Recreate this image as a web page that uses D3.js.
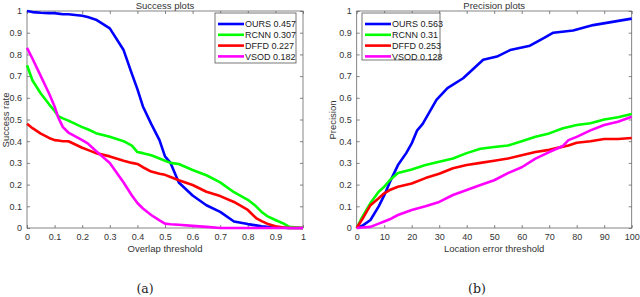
<!DOCTYPE html>
<html>
<head>
<meta charset="utf-8">
<script src="https://cdn.jsdelivr.net/npm/d3@7"></script>
<style>
  body { margin: 0; background: #fff; }
  svg { display: block; }
  .tick text { font-family: "Liberation Sans", Arial, sans-serif; font-size: 9px; fill: #333; }
  .lbl { font-family: "Liberation Sans", Arial, sans-serif; font-size: 9.5px; fill: #333; }
  .leg { font-family: "Liberation Sans", Arial, sans-serif; font-size: 9px; fill: #222; }
  .cap { font-family: "DejaVu Serif", "Liberation Serif", serif; font-size: 12.5px; fill: #222; }
</style>
</head>
<body>
<svg id="chart" width="640" height="297"></svg>
<script>
// Success plots (overlap threshold 0..1)
const succX = [0, 0.02, 0.05, 0.08, 0.1, 0.113, 0.13, 0.15, 0.2, 0.22, 0.25, 0.3, 0.35, 0.38, 0.4, 0.42, 0.45, 0.48, 0.5, 0.52, 0.55, 0.6, 0.65, 0.7, 0.75, 0.8, 0.83, 0.85, 0.87, 0.9, 0.93, 0.95, 1];
const succOurs = [1.0, 0.995, 0.992, 0.99, 0.99, 0.988, 0.985, 0.985, 0.978, 0.972, 0.96, 0.92, 0.82, 0.71, 0.64, 0.56, 0.48, 0.405, 0.33, 0.30, 0.21, 0.15, 0.105, 0.074, 0.03, 0.018, 0.012, 0.008, 0.005, 0.002, 0.001, 0, 0];
const succRcnn = [0.75, 0.68, 0.62, 0.57, 0.54, 0.515, 0.505, 0.495, 0.465, 0.455, 0.437, 0.42, 0.40, 0.38, 0.35, 0.345, 0.335, 0.32, 0.31, 0.30, 0.295, 0.267, 0.243, 0.21, 0.165, 0.13, 0.10, 0.074, 0.055, 0.037, 0.02, 0.005, 0];
const succDffd = [0.48, 0.46, 0.435, 0.415, 0.405, 0.403, 0.40, 0.40, 0.37, 0.36, 0.345, 0.33, 0.31, 0.30, 0.295, 0.28, 0.26, 0.25, 0.245, 0.235, 0.22, 0.198, 0.167, 0.147, 0.12, 0.083, 0.046, 0.032, 0.02, 0.008, 0.002, 0, 0];
const succVsod = [0.83, 0.78, 0.70, 0.62, 0.56, 0.51, 0.465, 0.44, 0.405, 0.39, 0.355, 0.30, 0.21, 0.15, 0.115, 0.09, 0.06, 0.035, 0.02, 0.017, 0.015, 0.01, 0.005, 0, 0, 0, 0, 0, 0, 0, 0, 0, 0];

// Precision plots (location error threshold 0..100)
const precX = [0, 2, 5, 8, 10, 12, 15, 18, 20, 22, 24, 29, 33, 38.7, 46, 51, 55.8, 63, 68, 71.5, 78.7, 86, 93, 100];
const precOurs = [0, 0.01, 0.037, 0.10, 0.15, 0.21, 0.29, 0.345, 0.39, 0.45, 0.48, 0.59, 0.645, 0.69, 0.775, 0.79, 0.82, 0.84, 0.875, 0.90, 0.91, 0.935, 0.95, 0.965];
const precX2 = [0, 2, 5, 8, 10, 12, 15, 20, 25, 30, 35, 40, 45, 50, 55, 60, 65, 70, 75, 77, 80, 85, 90, 95, 100];
const precRcnn = [0, 0.05, 0.115, 0.167, 0.19, 0.22, 0.253, 0.27, 0.29, 0.305, 0.32, 0.345, 0.365, 0.373, 0.38, 0.40, 0.42, 0.436, 0.46, 0.465, 0.475, 0.483, 0.50, 0.51, 0.525];
const precDffd = [0, 0.04, 0.105, 0.137, 0.16, 0.175, 0.19, 0.205, 0.23, 0.25, 0.275, 0.29, 0.30, 0.31, 0.32, 0.335, 0.35, 0.36, 0.375, 0.38, 0.393, 0.40, 0.41, 0.41, 0.415];
const precVsod = [0, 0.002, 0.005, 0.02, 0.03, 0.04, 0.06, 0.083, 0.10, 0.12, 0.152, 0.175, 0.198, 0.22, 0.253, 0.28, 0.32, 0.35, 0.378, 0.405, 0.42, 0.45, 0.475, 0.49, 0.513];

const succLegend = ["OURS 0.457", "RCNN 0.307", "DFFD  0.227", "VSOD 0.182"];
const precLegend = ["OURS 0.563", "RCNN 0.31", "DFFD  0.253", "VSOD 0.128"];
const colors = ["#0000ff", "#00ff00", "#ff0000", "#ff00ff"];

const svg = d3.select("#chart");
const yTicks = d3.range(0, 1.0001, 0.1);

function drawPanel(opt) {
  const g = svg.append("g");
  const x = d3.scaleLinear().domain(opt.xDomain).range([opt.left, opt.right]);
  const y = d3.scaleLinear().domain([0, 1]).range([228, 11]);

  // box
  g.append("rect")
    .attr("x", opt.left).attr("y", 11)
    .attr("width", opt.right - opt.left).attr("height", 217)
    .attr("fill", "none").attr("stroke", "#666").attr("stroke-width", 0.8);

  const xa = g.append("g").attr("transform", "translate(0,228)")
    .call(d3.axisBottom(x).tickValues(opt.xTicks).tickSize(-3).tickPadding(6).tickFormat(opt.xFmt));
  const xt = g.append("g").attr("transform", "translate(0,11)")
    .call(d3.axisTop(x).tickValues(opt.xTicks).tickSize(-3).tickFormat(""));
  const ya = g.append("g").attr("transform", `translate(${opt.left},0)`)
    .call(d3.axisLeft(y).tickValues(yTicks).tickSize(-3).tickPadding(5)
      .tickFormat(d => d3.format("~g")(+d.toFixed(1))));
  const yr = g.append("g").attr("transform", `translate(${opt.right},0)`)
    .call(d3.axisRight(y).tickValues(yTicks).tickSize(-3).tickFormat(""));
  [xa, xt, ya, yr].forEach(a => {
    a.select(".domain").remove();
    a.selectAll(".tick line").attr("stroke", "#666").attr("stroke-width", 0.8);
  });

  // curves
  const line = d3.line().x(d => x(d[0])).y(d => y(d[1]));
  opt.series.forEach((s, i) => {
    g.append("path")
      .datum(s.xs.map((v, j) => [v, s.ys[j]]))
      .attr("d", line)
      .attr("fill", "none")
      .attr("stroke", colors[i])
      .attr("stroke-width", 2.6)
      .attr("stroke-linejoin", "round");
  });

  // legend
  const lg = g.append("g");
  lg.append("rect")
    .attr("x", opt.legX).attr("y", 13)
    .attr("width", opt.legW).attr("height", opt.legH)
    .attr("fill", "#fff").attr("stroke", "#555").attr("stroke-width", 0.8);
  opt.legend.forEach((t, i) => {
    const yy = 24 + i * 10.8;
    lg.append("line")
      .attr("x1", opt.legX + 3).attr("x2", opt.legX + 29)
      .attr("y1", yy).attr("y2", yy)
      .attr("stroke", colors[i]).attr("stroke-width", 2.6);
    lg.append("text").attr("class", "leg")
      .attr("x", opt.legX + 30).attr("y", yy + 3.3)
      .text(t);
  });

  // titles
  const cx = (opt.left + opt.right) / 2;
  g.append("text").attr("class", "lbl").attr("x", cx).attr("y", 8.5)
    .attr("text-anchor", "middle").text(opt.title);
  g.append("text").attr("class", "lbl").attr("x", cx).attr("y", 252)
    .attr("text-anchor", "middle").text(opt.xLabel);
  g.append("text").attr("class", "lbl")
    .attr("transform", `translate(${opt.yLabelX},${120}) rotate(-90)`)
    .attr("text-anchor", "middle").text(opt.yLabel);
  g.append("text").attr("class", "cap").attr("x", opt.capX).attr("y", 293)
    .attr("text-anchor", "middle").text(opt.cap);
}

drawPanel({
  left: 27, right: 303,
  xDomain: [0, 1], xTicks: d3.range(0, 1.0001, 0.1),
  xFmt: d => d3.format("~g")(+d.toFixed(1)),
  series: [
    { xs: succX, ys: succOurs },
    { xs: succX, ys: succRcnn },
    { xs: succX, ys: succDffd },
    { xs: succX, ys: succVsod }
  ],
  legend: succLegend, legX: 215, legW: 81, legH: 50,
  title: "Success plots", xLabel: "Overlap threshold", yLabel: "Success rate",
  yLabelX: 9, cap: "(a)", capX: 145
});

drawPanel({
  left: 356.7, right: 631.7,
  xDomain: [0, 100], xTicks: d3.range(0, 101, 10),
  xFmt: d3.format("d"),
  series: [
    { xs: precX, ys: precOurs },
    { xs: precX2, ys: precRcnn },
    { xs: precX2, ys: precDffd },
    { xs: precX2, ys: precVsod }
  ],
  legend: precLegend, legX: 362, legW: 78, legH: 47,
  title: "Precision plots", xLabel: "Location error threshold", yLabel: "Precision",
  yLabelX: 336, cap: "(b)", capX: 477
});
</script>
</body>
</html>
